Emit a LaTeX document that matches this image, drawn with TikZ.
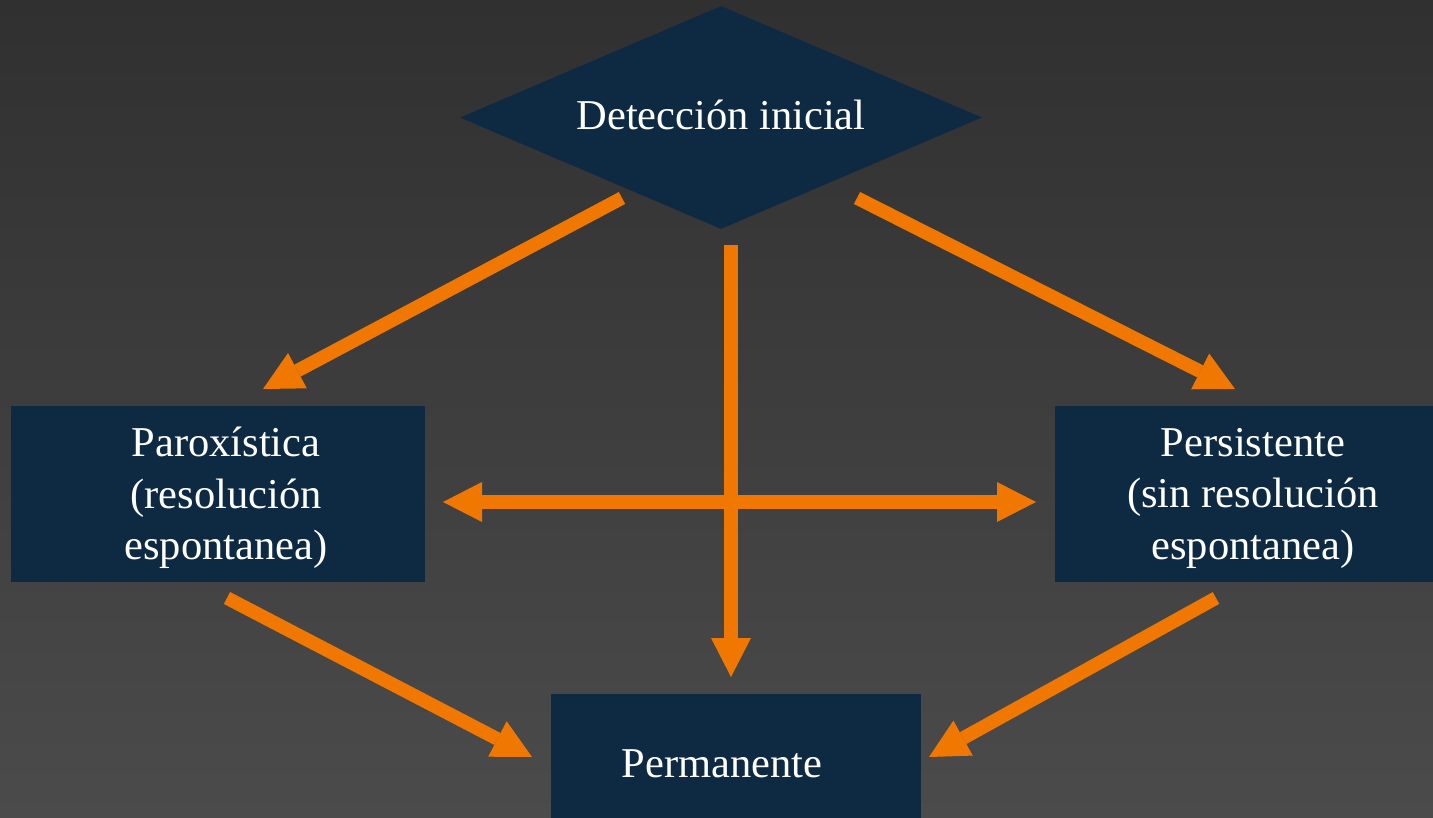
\documentclass[tikz,border=0pt]{standalone}
\usepackage{fontspec}
\setmainfont{Liberation Serif}
\usetikzlibrary{arrows.meta,shapes.geometric}
\definecolor{bgtop}{HTML}{303030}
\definecolor{bgbot}{HTML}{4B4B4B}
\definecolor{navy}{HTML}{0E2A43}
\definecolor{orng}{HTML}{F07800}
\begin{document}
\begin{tikzpicture}[x=1pt,y=-1pt,
  box/.style={rectangle, fill=navy, draw=none, inner sep=0pt},
  dia/.style={diamond, fill=navy, draw=none, inner sep=0pt},
  lbl/.style={text=white, font=\fontsize{42.5}{51.5}\selectfont, align=center, inner sep=0pt},
  arr/.style={draw=orng, line width=13.5pt, -{Triangle[length=39pt,width=40pt,line width=0pt]}},
  darr/.style={draw=orng, line width=13.5pt, {Triangle[length=39pt,width=40pt,line width=0pt]}-{Triangle[length=39pt,width=40pt,line width=0pt]}}]
\shade[top color=bgtop, bottom color=bgbot] (0,0) rectangle (1433,818);
\useasboundingbox (0,0) rectangle (1433,818);
% shapes
\node[dia, minimum width=522pt, minimum height=223pt] (det) at (721,117.5) {};
\node[box, minimum width=414pt, minimum height=176pt] (paro) at (218,494) {};
\node[box, minimum width=396pt, minimum height=176pt] (pers) at (1253,494) {};
\node[box, minimum width=370pt, minimum height=176pt] (perm) at (736,782) {};
% texts
\node[lbl, anchor=base] (dett) at (721,130) {Detección inicial};
\node[lbl] (parot) at (226,498) {Paroxística\\(resolución\\espontanea)};
\node[lbl] (perst) at (1253,498) {Persistente\\(sin resolución\\espontanea)};
\node[lbl, anchor=base] (permt) at (722,777) {Permanente};
% connector ends
\coordinate (a1s) at (622,198);  \coordinate (a1e) at (263,389);
\coordinate (a2s) at (857,198);  \coordinate (a2e) at (1235,389);
\coordinate (a3s) at (227,598);  \coordinate (a3e) at (532,757);
\coordinate (a4s) at (1216,598); \coordinate (a4e) at (929,757);
\coordinate (vs) at (731,245);   \coordinate (ve) at (731,677);
\coordinate (hs) at (443,502);   \coordinate (he) at (1036,502);
% connectors
\draw[arr] (a1s) -- (a1e);
\draw[arr] (a2s) -- (a2e);
\draw[arr] (a3s) -- (a3e);
\draw[arr] (a4s) -- (a4e);
\draw[arr] (vs) -- (ve);
\draw[darr] (hs) -- (he);
\end{tikzpicture}
\end{document}
